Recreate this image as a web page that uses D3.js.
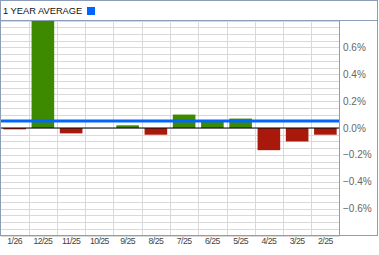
<!DOCTYPE html>
<html>
<head>
<meta charset="utf-8">
<script src="https://cdn.jsdelivr.net/npm/d3@7"></script>
<style>
  html, body { margin: 0; padding: 0; background: #fff; }
  svg { display: block; font-family: "Liberation Sans", Arial, sans-serif; }
</style>
</head>
<body>
<svg id="chart" width="379" height="255"></svg>
<script>
// months, newest first
const months = ['1/26', '12/25', '11/25', '10/25', '9/25', '8/25', '7/25', '6/25', '5/25', '4/25', '3/25', '2/25'];
// monthly change, percent
const changes = [-0.01, 0.8, -0.04, 0, 0.02, -0.05, 0.1, 0.05, 0.07, -0.165, -0.1, -0.05];
const yearAverage = 0.052;
const yTickValues = [0.6, 0.4, 0.2, 0, -0.2, -0.4, -0.6];

const frame = { left: 0.5, top: 0.5, right: 377.5, bottom: 235.5 };
const plot = { left: 0.5, top: 20.5, right: 339.5, bottom: 235.5 };
const borderColor = '#8c9dba';

const svg = d3.select('#chart');

const x = d3.scaleBand()
  .domain(months)
  .range([plot.left, plot.right])
  .paddingInner(0.2)
  .paddingOuter(0.1);

const y = d3.scaleLinear()
  .domain([-0.8, 0.8])
  .range([plot.bottom, plot.top]);

// header / legend
svg.append('text')
  .attr('x', 3)
  .attr('y', 13.5)
  .attr('font-size', 9.3)
  .attr('fill', '#111')
  .text('1 YEAR AVERAGE');

svg.append('rect')
  .attr('x', 87)
  .attr('y', 7)
  .attr('width', 8)
  .attr('height', 8)
  .attr('fill', '#0066ff');

// grid
const grid = svg.append('g').attr('stroke', '#d9d9d9').attr('stroke-width', 1);

grid.selectAll('line.h')
  .data(y.ticks(32))
  .join('line')
  .attr('class', 'h')
  .attr('x1', plot.left)
  .attr('x2', plot.right)
  .attr('y1', d => Math.round(y(d)) + 0.5)
  .attr('y2', d => Math.round(y(d)) + 0.5);

grid.selectAll('line.v')
  .data(months.slice(1))
  .join('line')
  .attr('class', 'v')
  .attr('x1', d => Math.round(x(d) - x.step() * x.paddingOuter()) + 0.5)
  .attr('x2', d => Math.round(x(d) - x.step() * x.paddingOuter()) + 0.5)
  .attr('y1', plot.top)
  .attr('y2', plot.bottom);

// bars
svg.append('g')
  .selectAll('rect')
  .data(months.map((m, i) => ({ month: m, value: changes[i] })))
  .join('rect')
  .attr('x', d => x(d.month))
  .attr('width', x.bandwidth())
  .attr('y', d => y(Math.max(0, d.value)))
  .attr('height', d => Math.abs(y(d.value) - y(0)))
  .attr('fill', d => d.value >= 0 ? '#3d8a00' : '#a8190b');

// zero line
svg.append('line')
  .attr('x1', plot.left)
  .attr('x2', plot.right)
  .attr('y1', y(0))
  .attr('y2', y(0))
  .attr('stroke', '#000')
  .attr('stroke-width', 1);

// average line
svg.append('line')
  .attr('x1', plot.left)
  .attr('x2', plot.right)
  .attr('y1', y(yearAverage))
  .attr('y2', y(yearAverage))
  .attr('stroke', '#0066ff')
  .attr('stroke-width', 3);

// borders
svg.append('rect')
  .attr('x', frame.left)
  .attr('y', frame.top)
  .attr('width', frame.right - frame.left)
  .attr('height', frame.bottom - frame.top)
  .attr('fill', 'none')
  .attr('stroke', borderColor);

svg.append('line')
  .attr('x1', frame.left).attr('x2', frame.right)
  .attr('y1', plot.top).attr('y2', plot.top)
  .attr('stroke', borderColor);

svg.append('line')
  .attr('x1', plot.right).attr('x2', plot.right)
  .attr('y1', plot.top).attr('y2', plot.bottom)
  .attr('stroke', borderColor);

// y labels
svg.append('g')
  .selectAll('text')
  .data(yTickValues)
  .join('text')
  .attr('x', 343)
  .attr('y', d => y(d))
  .attr('dy', '0.35em')
  .attr('font-size', 10)
  .attr('fill', '#666')
  .text(d => d3.format('.1f')(d) + '%');

// x labels
svg.append('g')
  .selectAll('text')
  .data(months)
  .join('text')
  .attr('x', d => x(d) + x.bandwidth() / 2)
  .attr('y', 244)
  .attr('text-anchor', 'middle')
  .attr('font-size', 8.7)
  .attr('letter-spacing', -0.6)
  .attr('fill', '#444')
  .text(d => d);
</script>
</body>
</html>
